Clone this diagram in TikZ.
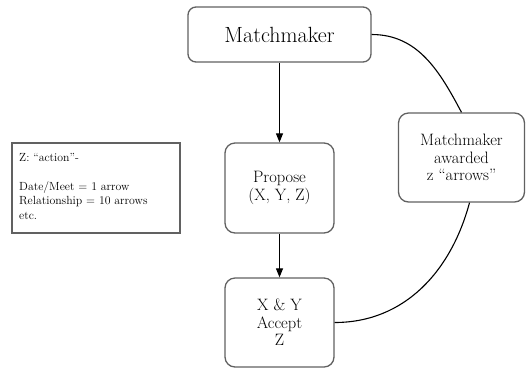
\documentclass[tikz,border=0pt]{standalone}
\usepackage{fontspec}
\usetikzlibrary{arrows.meta}
\begin{document}
\begin{tikzpicture}[x=1pt,y=1pt,
  box/.style={draw=black!62,line width=1.3pt,rounded corners=10pt,fill=white,inner sep=0pt,align=center,font=\fontsize{16.5}{17.5}\selectfont},
  legendbox/.style={draw=black!62,line width=1.3pt,inner sep=0pt},
  arr/.style={line width=1.1pt,-{Triangle[length=9pt,width=7pt]}},
  link/.style={line width=1.1pt}]
\useasboundingbox (0,0) rectangle (526,-368);
\node[box,minimum width=183,minimum height=55,rounded corners=8pt,font=\fontsize{22}{24}\selectfont] (mm) at (279.5,-34.5) {Matchmaker};
\node[box,minimum width=109,minimum height=90] (prop) at (279.5,-188) {Propose\\(X, Y, Z)};
\node[box,minimum width=109,minimum height=89] (acc) at (279.5,-322.5) {X \& Y\\Accept\\Z};
\node[box,minimum width=126,minimum height=89] (aw) at (461.5,-157.5) {Matchmaker\\awarded\\z ``arrows''};
\node[legendbox,minimum width=168,minimum height=90] (leg) at (96,-188) {};
\node[anchor=north west,inner sep=0pt,align=left,font=\fontsize{11.8}{14.5}\selectfont] (legtxt) at (19,-153) {Z: ``action''-\\[14.5pt]Date/Meet = \oldstylenums{1} arrow\\Relationship = \oldstylenums{10} arrows\\etc.};
\draw[arr] (mm.south) -- (prop.north);
\draw[arr] (prop.south) -- (acc.north);
\draw[link] (mm.east) to[out=0,in=118] (aw.north);
\draw[link] ([xshift=8pt]aw.south) to[out=-105,in=0] (acc.east);
\end{tikzpicture}
\end{document}
